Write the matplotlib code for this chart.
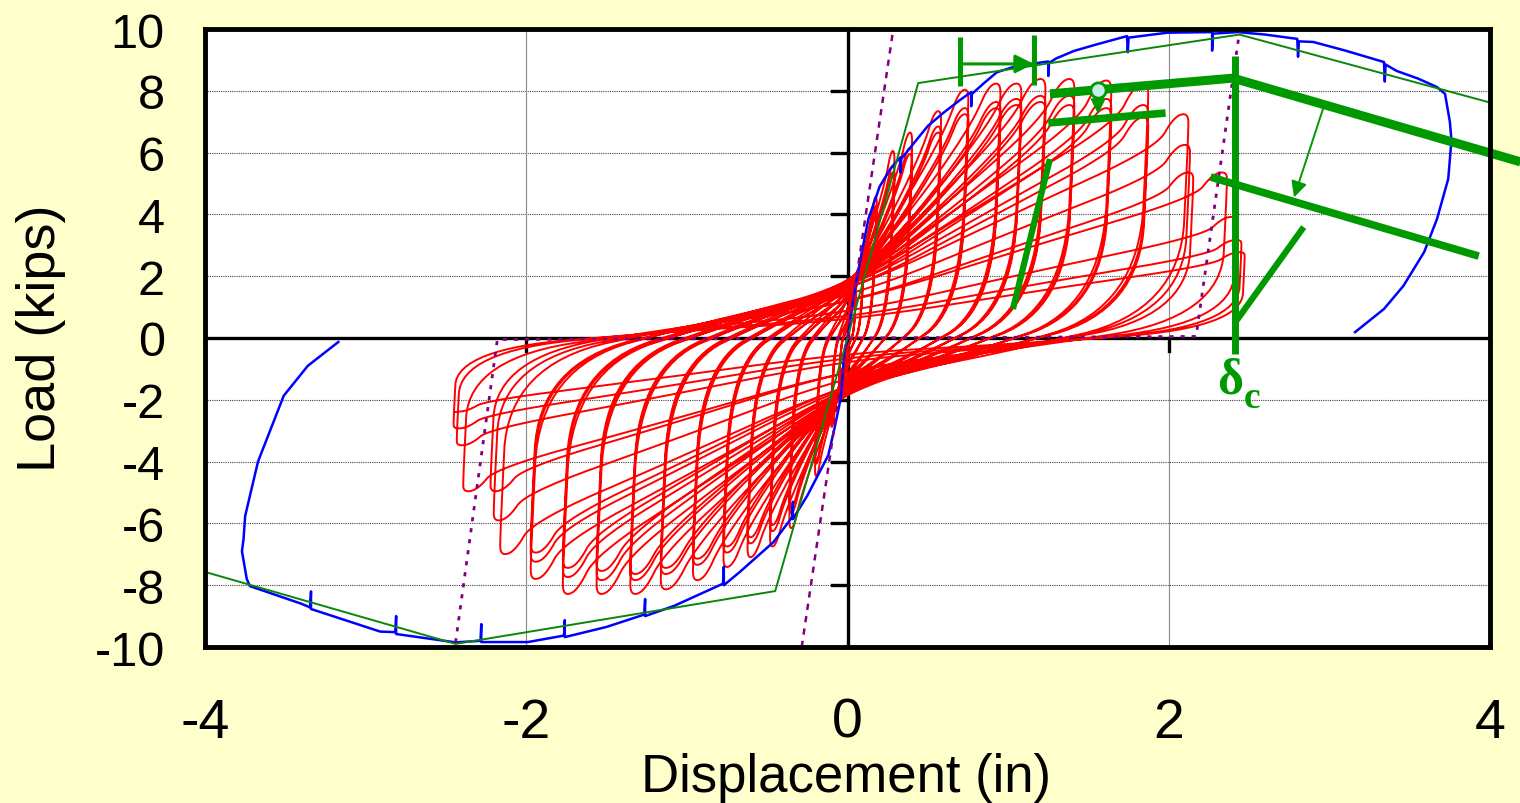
import numpy as np
import matplotlib
matplotlib.use("Agg")
import matplotlib.pyplot as plt

plt.rcParams['font.family'] = ['Liberation Sans', 'DejaVu Sans']
plt.rcParams['axes.unicode_minus'] = False

#region data
# cyclic test: peak displacement (in) and peak load (kips) of every cycle
cyc_dpos = [0.05, 0.05, 0.05, 0.10, 0.10, 0.10, 0.18, 0.18, 0.18,
            0.29, 0.29, 0.29, 0.40, 0.40, 0.40, 0.58, 0.58, 0.58,
            0.75, 0.75, 0.75, 0.95, 0.95, 0.95, 1.08, 1.08, 1.08,
            1.23, 1.23, 1.23, 1.41, 1.41, 1.41, 1.64, 1.64, 1.64,
            1.87, 1.87, 1.87, 2.12, 2.13, 2.15, 2.36, 2.42, 2.45, 2.47]
cyc_fpos = [1.6, 1.5, 1.5, 3.0, 2.8, 2.7, 4.6, 4.3, 4.2,
            6.1, 5.6, 5.4, 6.7, 6.2, 6.0, 7.4, 6.9, 6.7,
            8.1, 7.5, 7.3, 8.3, 7.7, 7.5, 8.3, 7.8, 7.6,
            8.45, 7.9, 7.7, 8.45, 7.9, 7.6, 8.4, 7.8, 7.5,
            8.3, 7.6, 7.2, 7.3, 6.3, 5.4, 5.4, 3.95, 3.2, 2.8]
cyc_dneg = [-0.05, -0.05, -0.05, -0.10, -0.10, -0.10, -0.20, -0.20, -0.20,
            -0.36, -0.36, -0.36, -0.48, -0.48, -0.48, -0.62, -0.62, -0.62,
            -0.77, -0.77, -0.77, -0.96, -0.96, -0.96, -1.16, -1.16, -1.16,
            -1.35, -1.35, -1.35, -1.56, -1.56, -1.56, -1.77, -1.77, -1.77,
            -1.97, -1.97, -1.97, -2.16, -2.20, -2.22, -2.39, -2.43, -2.45, -2.45]
cyc_fneg = [-1.6, -1.5, -1.5, -2.9, -2.7, -2.6, -4.5, -4.1, -4.0,
            -6.2, -5.7, -5.5, -6.8, -6.3, -6.1, -7.15, -6.7, -6.5,
            -7.47, -7.0, -6.8, -7.9, -7.4, -7.2, -8.2, -7.7, -7.5,
            -8.35, -7.9, -7.7, -8.35, -7.9, -7.6, -8.35, -7.8, -7.5,
            -7.86, -7.3, -7.0, -7.05, -5.95, -5.0, -5.0, -3.5, -2.95, -2.4]

# monotonic test (blue), positive and negative branches, with the pause spikes
mono_pos_x = [0.0, 0.02, 0.05, 0.09, 0.13, 0.2, 0.27, 0.33, 0.33, 0.335, 0.42, 0.5, 0.6, 0.7,
              0.77, 0.77, 0.775, 0.85, 0.93, 1.05, 1.25, 1.25, 1.255, 1.3, 1.41, 1.55,
              1.74, 1.745, 1.75, 1.99, 2.27, 2.27, 2.275, 2.43, 2.6, 2.8, 2.805, 2.81,
              2.9, 3.1, 3.34, 3.345, 3.35, 3.42, 3.55, 3.67, 3.72, 3.75, 3.76, 3.74,
              3.67, 3.59, 3.46, 3.34, 3.16]
mono_pos_y = [0.0, 0.7, 1.7, 2.8, 3.85, 4.9, 5.5, 5.85, 5.35, 5.8, 6.35, 6.86, 7.3, 7.7,
              7.96, 7.5, 7.9, 8.25, 8.6, 8.8, 8.95, 8.48, 8.9, 9.05, 9.29, 9.5,
              9.77, 9.25, 9.72, 9.88, 9.9, 9.3, 9.85, 9.9, 9.82, 9.68, 9.1, 9.6,
              9.58, 9.3, 8.93, 8.3, 8.85, 8.64, 8.4, 8.12, 7.9, 7.0, 6.4, 5.15,
              3.85, 2.78, 1.68, 0.94, 0.19]
mono_neg_x = [0.0, -0.02, -0.04, -0.08, -0.12, -0.25, -0.34, -0.34, -0.345, -0.46, -0.67,
              -0.77, -0.77, -0.775, -1.08, -1.26, -1.26, -1.265, -1.5, -1.76, -1.76, -1.765,
              -1.99, -2.28, -2.28, -2.285, -2.44, -2.81, -2.81, -2.815, -2.91, -3.34, -3.34,
              -3.345, -3.4, -3.72, -3.74, -3.77, -3.76, -3.75, -3.67, -3.51, -3.36, -3.17]
mono_neg_y = [0.0, -0.45, -1.9, -2.9, -3.8, -5.1, -5.86, -5.3, -5.8, -6.6, -7.57,
              -8.0, -7.4, -7.95, -8.67, -9.0, -8.45, -8.95, -9.35, -9.68, -9.13, -9.63,
              -9.84, -9.84, -9.26, -9.8, -9.85, -9.58, -9.0, -9.52, -9.5, -8.77, -8.2,
              -8.72, -8.6, -8.03, -7.8, -6.9, -6.5, -5.76, -4.0, -1.87, -0.9, -0.13]

# backbone model (thin green)
model_pos_x = [0.0, 0.44, 2.44, 4.0]
model_pos_y = [0.0, 8.25, 9.82, 7.62]
model_neg_x = [0.0, -0.45, -2.44, -4.0]
model_neg_y = [0.0, -8.19, -9.9, -7.57]

# purple dotted reference lines
elastic_x = [-0.285, 0.285]
elastic_y = [-10.0, 10.0]
unload_x = [-2.44, -2.18, 0.0, 2.17, 2.44]
unload_y = [-9.85, -0.05, 0.0, 0.05, 9.9]

yticks = [10, 8, 6, 4, 2, 0, -2, -4, -6, -8, -10]
xticks = [-4, -2, 0, 2, 4]
#endregion

#region loop shape
KU = 120.0  # unloading stiffness used to shape the loops


def half_cycle(d0, f0, d1, f1):
    """control points going from peak (d0,f0) to the opposite peak (d1,f1)"""
    s0 = np.sign(d0)
    s1 = np.sign(d1)
    fi = min(0.2 * abs(f1), 1.8)
    xu = d0 - s0 * 0.85 * abs(f0) / KU
    w = min(0.2, 0.18 * abs(d1))
    return [(d0 + s0 * 0.004, 0.92 * f0),
            (xu, 0.12 * f0),
            (0.4 * xu, s1 * 0.45 * fi),
            (0.0, s1 * fi),
            (0.5 * d1, s1 * (fi + 0.45 * (abs(f1) - fi))),
            (d1 - s1 * w, 0.84 * f1),
            (d1 - s1 * 0.45 * w, 0.98 * f1),
            (d1, f1)]


def chaikin(pts, n=4):
    p = np.asarray(pts, float)
    for _ in range(n):
        q = 0.75 * p[:-1] + 0.25 * p[1:]
        r = 0.25 * p[:-1] + 0.75 * p[1:]
        new = np.empty((2 * len(q), 2))
        new[0::2] = q
        new[1::2] = r
        p = np.vstack([p[:1], new, p[-1:]])
    return p


ctrl = [(0.0, 0.0), (0.7 * cyc_dpos[0], 0.8 * cyc_fpos[0]), (cyc_dpos[0], cyc_fpos[0])]
prev = (cyc_dpos[0], cyc_fpos[0])
for i in range(len(cyc_dpos)):
    if i > 0:
        ctrl += half_cycle(prev[0], prev[1], cyc_dpos[i], cyc_fpos[i])
    ctrl += half_cycle(cyc_dpos[i], cyc_fpos[i], cyc_dneg[i], cyc_fneg[i])
    prev = (cyc_dneg[i], cyc_fneg[i])
loops = chaikin(ctrl, 4)
#endregion

#region plotting
GREEN = '#009900'
fig = plt.figure(figsize=(15.2, 8.04), dpi=100, facecolor='#FFFFCC')
ax = fig.add_axes([205 / 1520, 156 / 804, 1285 / 1520, 618 / 804])
ax.set_facecolor('white')
ax.set_xlim(-4, 4)
ax.set_ylim(-10, 10)

for y in yticks[1:-1]:
    ax.axhline(y, color='#444444', lw=0.8, ls=(0, (1, 1)), zorder=1)
for x in [-2, 2]:
    ax.axvline(x, color='#888888', lw=0.8, zorder=1)
ax.axhline(0, color='black', lw=2.4, zorder=1.5)
ax.axvline(0, color='black', lw=2.4, zorder=1.5)
for y in yticks[1:-1]:
    ax.plot([-0.095, 0], [y, y], color='black', lw=2.4, zorder=1.5)
for x in [-2, 2]:
    ax.plot([x, x], [0, -0.42], color='black', lw=2.4, zorder=1.5)

ax.plot(loops[:, 0], loops[:, 1], color='red', lw=1.4, zorder=3)
ax.plot(mono_pos_x, mono_pos_y, color='blue', lw=1.8, zorder=4)
ax.plot(mono_neg_x, mono_neg_y, color='blue', lw=1.8, zorder=4)
ax.plot(model_pos_x, model_pos_y, color='#0a870a', lw=1.4, zorder=4)
ax.plot(model_neg_x, model_neg_y, color='#0a870a', lw=1.4, zorder=4)
ax.plot(elastic_x, elastic_y, color='#800080', lw=1.8, ls=(0, (2.5, 2.5)), zorder=5)
ax.plot(unload_x, unload_y, color='#800080', lw=2.0, ls=(0, (1.5, 2.5)), zorder=5)

# green annotations
kw = dict(color=GREEN, solid_capstyle='butt', zorder=6)
ax.plot([0.70, 0.70], [8.16, 9.74], lw=3.6, **kw)
ax.plot([1.16, 1.16], [8.2, 9.8], lw=3.6, **kw)
ax.annotate('', xy=(1.16, 8.87), xytext=(0.70, 8.87), zorder=6,
            arrowprops=dict(arrowstyle='-|>', color=GREEN, lw=2.2, mutation_scale=28,
                            shrinkA=0, shrinkB=0))
ax.plot([1.26, 2.40], [7.9, 8.41], lw=6.5, **kw)
ax.plot([2.40, 4.19], [8.41, 5.7], lw=6.5, clip_on=False, **kw)
ax.plot([1.25, 1.98], [6.96, 7.28], lw=5.5, **kw)
ax.annotate('', xy=(1.56, 7.25), xytext=(1.56, 7.9), zorder=6,
            arrowprops=dict(arrowstyle='-|>', color=GREEN, lw=1.6, mutation_scale=22,
                            shrinkA=0, shrinkB=0))
ax.plot([1.56], [8.03], 'o', ms=11, mfc='#c6ecec', mec=GREEN, mew=2, zorder=7)
ax.plot([2.41, 2.41], [9.13, -0.52], lw=5, clip_on=False, **kw)
ax.annotate('', xy=(2.78, 4.55), xytext=(2.96, 7.41), zorder=6,
            arrowprops=dict(arrowstyle='-|>', color=GREEN, lw=1.4, mutation_scale=24,
                            shrinkA=0, shrinkB=0))
ax.plot([2.26, 3.93], [5.21, 2.65], lw=5.5, **kw)
ax.plot([2.42, 2.84], [0.55, 3.59], lw=4.5, **kw)
ax.plot([1.03, 1.26], [0.94, 5.79], lw=4.5, **kw)
ax.text(2.385, -1.75, 'δ', ha='center', va='baseline', fontsize=36, fontweight='bold',
        family=['Liberation Serif', 'DejaVu Serif'], color=GREEN, clip_on=False)
ax.text(2.47, -2.23, 'c', ha='left', va='baseline', fontsize=27, fontweight='bold',
        family=['Liberation Serif', 'DejaVu Serif'], color=GREEN, clip_on=False)

for s in ax.spines.values():
    s.set_linewidth(3.5)
    s.set_zorder(8)
ax.set_xticks(xticks)
ax.set_xticklabels([str(v) for v in xticks])
ax.set_yticks(yticks)
ax.set_yticklabels([str(v) for v in yticks])
ax.tick_params(axis='x', length=0, pad=36, labelsize=40)
ax.tick_params(axis='y', length=0, pad=29, labelsize=35)

fig.text(846 / 1520, 1 - 792 / 804, 'Displacement (in)', ha='center', va='baseline', fontsize=38)
fig.text(41 / 1520, 1 - 338 / 804, 'Load (kips)', ha='center', va='center', rotation=90, fontsize=39)

fig.savefig('out.png', dpi=100, facecolor=fig.get_facecolor())
#endregion
